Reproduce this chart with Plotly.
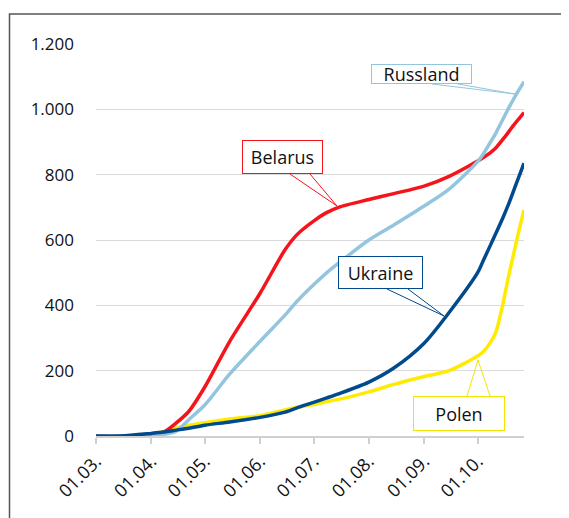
import plotly.graph_objects as go

# ---- data ----
dates = ["2020-03-01", "2020-03-15", "2020-04-01", "2020-04-08", "2020-04-15", "2020-04-22",
         "2020-05-01", "2020-05-15", "2020-06-01", "2020-06-15", "2020-06-22", "2020-07-01",
         "2020-07-08", "2020-07-15", "2020-08-01", "2020-08-15", "2020-09-01", "2020-09-15",
         "2020-10-01", "2020-10-04", "2020-10-08", "2020-10-11", "2020-10-15", "2020-10-18",
         "2020-10-21", "2020-10-24", "2020-10-27"]
belarus = [0, 0, 3, 12, 40, 75, 150, 290, 437, 570, 618, 658, 683, 700, 724, 742, 765, 795,
           842, 852, 867, 881, 907, 928, 950, 970, 990]
russland = [0, 0, 3, 5, 15, 50, 95, 190, 290, 370, 414, 463, 498, 529, 600, 646, 704, 756,
            840, 862, 898, 925, 968, 1000, 1030, 1058, 1085]
ukraine = [0, 0, 8, 12, 18, 24, 33, 43, 57, 73, 87, 103, 116, 129, 165, 208, 284, 378,
           500, 535, 582, 618, 666, 705, 748, 792, 835]
polen = [0, 0, 6, 14, 24, 33, 41, 52, 62, 80, 88, 96, 105, 112, 135, 158, 182, 200,
         245, 257, 285, 315, 400, 480, 553, 625, 692]

tick_dates = ["2020-03-01", "2020-04-01", "2020-05-01", "2020-06-01", "2020-07-01",
              "2020-08-01", "2020-09-01", "2020-10-01"]
tick_labels = ["01.03.", "01.04.", "01.05.", "01.06.", "01.07.", "01.08.", "01.09.", "01.10."]

series = [
    ("Polen", polen, "#FFEB00"),
    ("Belarus", belarus, "#F5141B"),
    ("Russland", russland, "#93C5DF"),
    ("Ukraine", ukraine, "#004A8D"),
]

# page has an 8px body margin: work in page pixels, convert to figure pixels
OFF = 8
W, H = 569 - OFF, 518 - OFF
L, R, T, B = 96 - OFF, 45, 44 - OFF, 82
PW, PH = W - L - R, H - T - B


def px(x):
    return (x - OFF - L) / PW


def py(y):
    return (H - B - (y - OFF)) / PH


fig = go.Figure()
for name, vals, col in series:
    fig.add_trace(go.Scatter(x=dates, y=vals, name=name, mode="lines",
                             line=dict(color=col, width=3.5, shape="spline", smoothing=0.8)))

FONT = "Open Sans, Noto Sans, sans-serif"

# callout boxes: (text, color, box center px, box size, wedge base points, tip)
callouts = [
    ("Russland", "#93C5DF", (421.5, 74), (101, 20), ((432, 84), (458, 84)), (515, 94)),
    ("Belarus", "#F5141B", (282.5, 157), (81, 34), ((290, 174), (310, 174)), (337, 206)),
    ("Ukraine", "#004A8D", (380.5, 272.5), (85, 33), ((387, 289), (408, 289)), (444, 316)),
    ("Polen", "#F2E600", (459, 413.5), (92, 35), ((467, 396), (490, 396)), (478, 360)),
]
shapes = []
annotations = []
for text, col, (cx, cy), (bw, bh), (a, b), tip in callouts:
    path = "M {} {} L {} {} L {} {}".format(px(a[0]), py(a[1]), px(tip[0]), py(tip[1]),
                                              px(b[0]), py(b[1]))
    shapes.append(dict(type="path", xref="paper", yref="paper", path=path,
                       line=dict(color=col, width=1), layer="above"))
    annotations.append(dict(text=text, xref="paper", yref="paper", x=px(cx), y=py(cy),
                            xanchor="center", yanchor="middle", showarrow=False,
                            font=dict(family=FONT, size=18, color="#111111"),
                            bgcolor="white", bordercolor=col, borderwidth=1, borderpad=0,
                            width=bw - 2, height=bh - 2))

# outer frame
shapes.append(dict(type="rect", xref="paper", yref="paper",
                   x0=px(9.5), y0=py(560), x1=px(620), y1=py(14),
                   line=dict(color="#555555", width=1.5), layer="below"))

fig.update_layout(
    width=W, height=H, autosize=False,
    margin=dict(l=L, r=R, t=T, b=B),
    paper_bgcolor="white", plot_bgcolor="white",
    showlegend=False,
    separators=",.",
    font=dict(family=FONT, size=16, color="#111111"),
    shapes=shapes, annotations=annotations,
)
fig.update_xaxes(type="date", range=["2020-03-01", "2020-10-27"],
                 tickvals=tick_dates, ticktext=tick_labels, tickangle=-45,
                 ticks="outside", ticklen=6, tickcolor="#d0d0d0", tickwidth=1.5,
                 showline=True, linecolor="#d0d0d0", linewidth=1.5,
                 showgrid=False, zeroline=False,
                 tickfont=dict(family=FONT, size=18, color="#111111"))
fig.update_yaxes(range=[0, 1200], dtick=200, tick0=0, separatethousands=True,
                 showgrid=True, gridcolor="#dadada", gridwidth=1,
                 zeroline=False, showline=False, ticks="", ticklabelstandoff=21,
                 tickfont=dict(family=FONT, size=17, color="#111111"))

fig.write_html("out.html")
